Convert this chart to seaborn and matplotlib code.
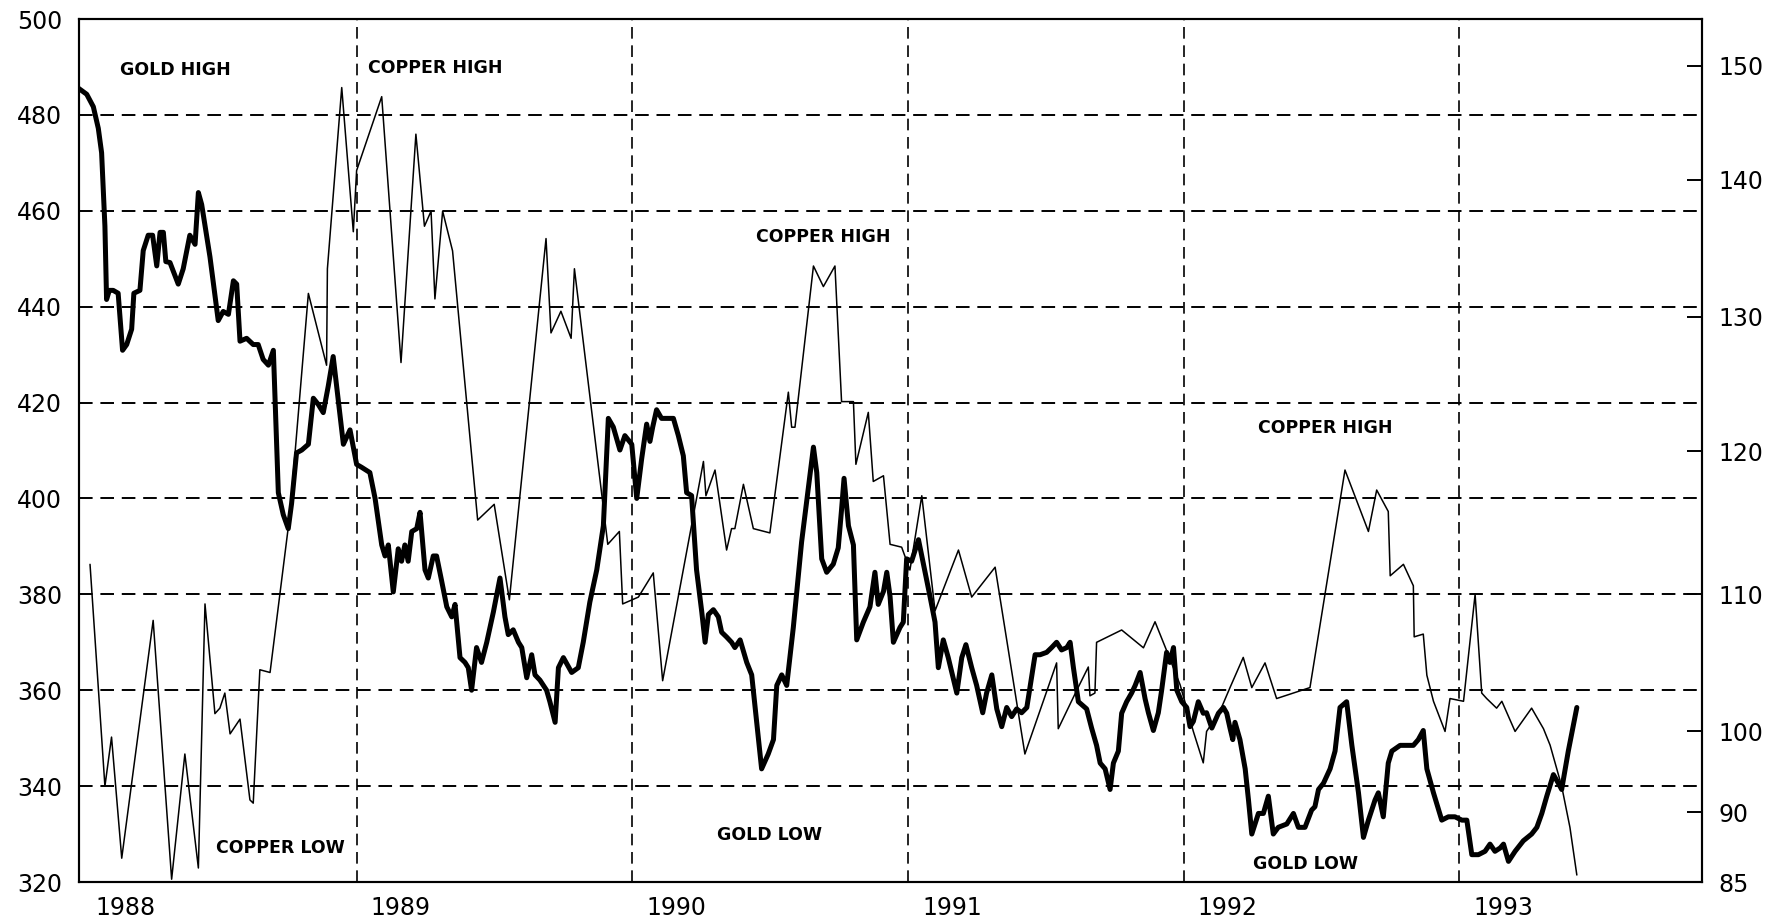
import numpy as np
import matplotlib
matplotlib.use('Agg')
import matplotlib.pyplot as plt
import seaborn as sns

# gold price (left axis, $/oz), weekly-ish readings
gold_year = [
    1987.990, 1988.021, 1988.045, 1988.063, 1988.075, 1988.087, 1988.093, 1988.103, 1988.117, 1988.135,
    1988.151, 1988.166, 1988.184, 1988.192, 1988.214, 1988.226, 1988.244, 1988.260, 1988.275, 1988.287,
    1988.299, 1988.308, 1988.323, 1988.353, 1988.371, 1988.395, 1988.414, 1988.426, 1988.438, 1988.468,
    1988.498, 1988.516, 1988.535, 1988.553, 1988.565, 1988.577, 1988.601, 1988.625, 1988.643, 1988.661,
    1988.680, 1988.698, 1988.716, 1988.734, 1988.752, 1988.764, 1988.782, 1988.801, 1988.825, 1988.843,
    1988.861, 1988.879, 1988.897, 1988.915, 1988.934, 1988.952, 1988.976, 1989.000, 1989.018, 1989.048,
    1989.067, 1989.091, 1989.103, 1989.115,
    1989.133, 1989.151, 1989.163, 1989.175, 1989.187, 1989.200, 1989.218, 1989.230, 1989.248, 1989.260,
    1989.278, 1989.290, 1989.308, 1989.327, 1989.345, 1989.357, 1989.375, 1989.393, 1989.405, 1989.417,
    1989.435, 1989.453, 1989.472, 1989.496, 1989.520, 1989.538, 1989.550, 1989.568, 1989.587, 1989.599,
    1989.617, 1989.635, 1989.647, 1989.665, 1989.689, 1989.701, 1989.720, 1989.732, 1989.750, 1989.780,
    1989.804, 1989.822, 1989.846, 1989.871, 1989.895, 1989.913, 1989.931, 1989.955, 1989.973, 1989.998,
    1990.016,
    1990.034, 1990.052, 1990.064, 1990.074, 1990.088, 1990.106, 1990.149, 1990.167, 1990.185, 1990.197,
    1990.215, 1990.233, 1990.252, 1990.264, 1990.276, 1990.294, 1990.312, 1990.324, 1990.342, 1990.360,
    1990.372, 1990.391, 1990.415, 1990.433, 1990.451, 1990.469, 1990.493, 1990.512, 1990.524, 1990.542,
    1990.560, 1990.584, 1990.614, 1990.639, 1990.657, 1990.669, 1990.687, 1990.705, 1990.729, 1990.747,
    1990.759, 1990.768, 1990.784, 1990.802, 1990.814, 1990.838, 1990.862, 1990.880, 1990.892, 1990.911,
    1990.923, 1990.935, 1990.947, 1990.971, 1990.983, 1990.995, 1991.013, 1991.038, 1991.056, 1991.080,
    1991.098, 1991.110, 1991.128, 1991.146,
    1991.177, 1991.195, 1991.210, 1991.231, 1991.249, 1991.271, 1991.285, 1991.304, 1991.322, 1991.340,
    1991.358, 1991.376, 1991.394, 1991.412, 1991.431, 1991.445, 1991.461, 1991.479, 1991.503, 1991.521,
    1991.539, 1991.557, 1991.576, 1991.588, 1991.600, 1991.618, 1991.648, 1991.666, 1991.684, 1991.697,
    1991.715, 1991.733, 1991.745, 1991.763, 1991.775, 1991.793, 1991.811, 1991.824, 1991.842, 1991.860,
    1991.872, 1991.890, 1991.908, 1991.920, 1991.938, 1991.950, 1991.963, 1991.975, 1991.993, 1992.011,
    1992.023, 1992.035, 1992.053, 1992.071, 1992.083, 1992.102, 1992.126, 1992.144, 1992.156, 1992.168,
    1992.178, 1992.186, 1992.204, 1992.223, 1992.235, 1992.247, 1992.271, 1992.289, 1992.307, 1992.325,
    1992.343, 1992.374, 1992.398, 1992.416, 1992.440, 1992.464, 1992.476, 1992.489, 1992.507, 1992.531,
    1992.549, 1992.567, 1992.591, 1992.610, 1992.634, 1992.652, 1992.670, 1992.694, 1992.706, 1992.724,
    1992.742, 1992.755, 1992.785, 1992.809, 1992.833, 1992.851, 1992.869, 1992.882, 1992.906, 1992.936,
    1992.960, 1992.984, 1993.009, 1993.027, 1993.045, 1993.069, 1993.093, 1993.111, 1993.129, 1993.148,
    1993.160, 1993.178, 1993.202, 1993.232, 1993.262, 1993.281, 1993.299, 1993.317, 1993.341, 1993.359,
    1993.371, 1993.395, 1993.426,
]
gold_price = [
    485.6, 484.3, 481.7, 477.2, 472.1, 456.8, 441.5, 443.4, 443.4, 442.8,
    430.9, 432.1, 435.3, 442.8, 443.4, 451.7, 454.9, 454.9, 448.5, 455.5,
    455.5, 449.4, 449.2, 444.7, 447.9, 454.9, 453.0, 463.8, 461.3, 450.4,
    437.1, 439.0, 438.4, 445.4, 444.7, 432.8, 433.4, 432.1, 432.1, 429.0,
    427.8, 430.9, 401.2, 396.6, 393.7, 398.9, 409.5, 410.1, 411.3, 420.9,
    419.6, 417.9, 423.4, 429.6, 420.3, 411.3, 414.3, 407.1, 406.5, 405.4,
    400.0, 390.3, 388.0, 390.3,
    380.5, 389.5, 386.9, 390.3, 386.9, 393.1, 393.7, 397.1, 385.1, 383.4,
    388.0, 388.0, 382.9, 377.4, 375.3, 377.9, 366.8, 365.8, 364.7, 360.0,
    368.9, 365.8, 370.0, 376.3, 383.4, 375.3, 371.6, 372.6, 370.0, 368.9,
    362.6, 367.4, 363.2, 362.1, 360.0, 357.6, 353.3, 364.7, 366.8, 363.7,
    364.7, 370.0, 378.4, 385.1, 394.3, 416.7, 414.9, 410.1, 413.1, 411.3,
    400.0,
    408.3, 415.5, 411.9, 414.9, 418.5, 416.7, 416.7, 413.1, 408.9, 401.2,
    400.6, 385.1, 376.3, 370.0, 375.8, 376.8, 375.3, 372.1, 371.1, 370.0,
    368.9, 370.5, 365.8, 363.2, 353.3, 343.6, 346.7, 349.7, 361.0, 363.2,
    361.0, 373.1, 390.9, 402.4, 410.7, 405.4, 387.4, 384.6, 386.3, 389.7,
    397.7, 404.2, 394.3, 390.3, 370.5, 374.2, 377.4, 384.6, 377.9, 380.6,
    384.6, 379.5, 370.0, 373.1, 374.2, 387.4, 386.9, 391.4, 386.3, 379.5,
    374.2, 364.7, 370.5, 366.8,
    359.4, 366.8, 369.5, 364.7, 361.0, 355.3, 359.4, 363.2, 356.1, 352.4,
    356.4, 354.5, 356.1, 355.3, 356.4, 361.6, 367.4, 367.4, 367.9, 368.9,
    370.0, 368.4, 368.9, 370.0, 364.7, 357.6, 356.1, 352.1, 348.5, 344.8,
    343.6, 339.3, 344.8, 347.3, 355.2, 357.6, 359.4, 361.0, 363.7, 358.2,
    355.3, 351.6, 355.3, 360.0, 367.9, 365.8, 368.9, 360.0, 357.6, 356.4,
    352.4, 353.5, 357.6, 355.2, 355.3, 352.1, 355.2, 356.4, 355.2, 352.1,
    349.7, 353.3, 349.7, 343.6, 337.1, 330.0, 334.3, 334.3, 337.9, 330.0,
    331.4, 332.1, 334.3, 331.4, 331.4, 335.0, 335.7, 339.3, 340.6, 343.6,
    347.3, 356.4, 357.6, 348.5, 338.6, 329.3, 332.9, 337.1, 338.6, 333.6,
    344.8, 347.3, 348.5, 348.5, 348.5, 349.7, 351.6, 343.6, 338.6, 332.9,
    333.6, 333.6, 332.9, 332.9, 325.7, 325.7, 326.4, 327.9, 326.4, 327.1,
    327.9, 324.3, 326.4, 328.6, 330.0, 331.4, 334.3, 337.9, 342.4, 340.6,
    339.3, 347.3, 356.4,
]

# copper price (right axis, cents/lb)
copper_year = [
    1988.033, 1988.087, 1988.111, 1988.148, 1988.262, 1988.329, 1988.377, 1988.426, 1988.450, 1988.486,
    1988.504, 1988.522, 1988.541, 1988.577, 1988.613, 1988.625, 1988.649, 1988.686, 1988.758, 1988.825,
    1988.891, 1988.894, 1988.946, 1988.988, 1989.000, 1989.091, 1989.161, 1989.215, 1989.246, 1989.270,
    1989.284, 1989.312, 1989.348, 1989.439, 1989.499, 1989.554, 1989.687, 1989.705, 1989.741, 1989.778,
    1989.790, 1989.886, 1989.911, 1989.953, 1989.965, 1990.022, 1990.076, 1990.110, 1990.258, 1990.267,
    1990.300, 1990.342, 1990.360, 1990.372, 1990.403, 1990.439, 1990.499, 1990.566, 1990.578, 1990.590,
    1990.657, 1990.693, 1990.735, 1990.759, 1990.802, 1990.811, 1990.856, 1990.874, 1990.911, 1990.935,
    1990.977, 1991.007, 1991.050, 1991.098, 1991.183, 1991.231, 1991.316, 1991.424, 1991.539, 1991.545,
    1991.612, 1991.654, 1991.660, 1991.678, 1991.684, 1991.775, 1991.854, 1991.896, 1991.938, 1991.987,
    1992.035, 1992.071, 1992.083, 1992.132, 1992.168, 1992.216, 1992.247, 1992.295, 1992.337, 1992.458,
    1992.585, 1992.670, 1992.700, 1992.742, 1992.749, 1992.797, 1992.833, 1992.836, 1992.869, 1992.882,
    1992.906, 1992.948, 1992.966, 1993.015, 1993.057, 1993.081, 1993.099, 1993.135, 1993.154, 1993.202,
    1993.262, 1993.305, 1993.329, 1993.371, 1993.401, 1993.426,
]
copper_price = [
    112.1, 93.2, 99.3, 86.7, 108.1, 85.2, 97.2, 86.0, 109.3, 101.3,
    101.7, 102.8, 99.7, 100.9, 91.5, 91.1, 104.5, 104.3, 115.6, 131.7,
    126.4, 133.5, 148.1, 136.2, 140.8, 147.3, 126.6, 144.0, 136.6, 137.7,
    131.3, 137.7, 134.8, 115.2, 116.3, 109.6, 135.7, 128.8, 130.4, 128.4,
    133.5, 117.5, 113.5, 114.4, 109.3, 109.8, 111.5, 103.7, 119.3, 116.9,
    118.7, 113.1, 114.6, 114.6, 117.7, 114.6, 114.3, 124.4, 121.8, 121.8,
    133.7, 132.2, 133.7, 123.7, 123.7, 119.1, 122.9, 117.9, 118.3, 113.5,
    113.3, 111.7, 116.9, 108.8, 113.1, 109.8, 111.9, 97.2, 105.0, 100.2,
    103.0, 104.7, 102.6, 102.8, 106.5, 107.4, 106.1, 108.0, 105.9, 103.4,
    100.0, 96.1, 100.0, 101.5, 103.2, 105.4, 103.2, 105.0, 102.4, 103.2,
    118.7, 114.4, 117.3, 115.8, 111.3, 112.1, 110.6, 106.9, 107.1, 104.1,
    102.2, 100.0, 102.4, 102.2, 110.0, 102.8, 102.4, 101.7, 102.2, 100.0,
    101.7, 100.2, 98.3, 93.2, 88.9, 85.5,
]

years = [1988, 1989, 1990, 1991, 1992, 1993]
gold_ticks = list(range(320, 501, 20))
copper_ticks = [85, 90, 100, 110, 120, 130, 140, 150]
# the copper scale on the original is hand drawn and uneven:
# where each copper value sits against the gold scale
copper_scale = [85, 90, 100, 110, 120, 130, 140, 150, 154.1]
copper_scale_at_gold = [320, 334.6, 351.4, 380, 409.8, 437.9, 466.5, 490.2, 500]

notes = [
    ('GOLD HIGH', 1988.341, 489.4),
    ('COPPER HIGH', 1989.284, 489.8),
    ('COPPER HIGH', 1990.691, 454.5),
    ('COPPER HIGH', 1992.512, 414.7),
    ('COPPER LOW', 1988.725, 327.1),
    ('GOLD LOW', 1990.499, 329.8),
    ('GOLD LOW', 1992.440, 323.7),
]


def cu_forward(v):
    return np.interp(v, copper_scale, copper_scale_at_gold)


def cu_inverse(v):
    return np.interp(v, copper_scale_at_gold, copper_scale)


sns.set_style('white')
plt.rcParams['font.family'] = ['DejaVu Sans']

X_MIN, X_MAX = 1987.993, 1993.880

fig = plt.figure(figsize=(17.68, 9.21), dpi=100)
ax = fig.add_axes([79 / 1768, 1 - 882 / 921, (1702 - 79) / 1768, (882 - 19) / 921])

sns.lineplot(x=gold_year, y=gold_price, ax=ax, color='black', linewidth=3.6,
             estimator=None, sort=False, zorder=4)

ax.set_xlim(X_MIN, X_MAX)
ax.set_ylim(320, 500)

for g in gold_ticks[1:-1]:
    ax.axhline(g, color='black', linewidth=1.4, linestyle=(0, (7, 4)), zorder=1)
for yr in years[1:]:
    ax.axvline(yr, color='black', linewidth=1.2, linestyle=(0, (7, 4)), zorder=1)

ax.set_yticks(gold_ticks)
ax.set_yticklabels([str(g) for g in gold_ticks])
ax.set_xticks([yr + 0.16 for yr in years])
ax.set_xticklabels([str(yr) for yr in years])
ax.tick_params(axis='both', length=0, labelsize=17, colors='black')
ax.tick_params(axis='y', pad=12)
ax.tick_params(axis='x', pad=10)
ax.set_xlabel('')
ax.set_ylabel('')

for label, x, y in notes:
    ax.text(x, y, label, ha='center', va='center', fontsize=12.5,
            fontweight='bold', color='black', zorder=5)

ax2 = ax.twinx()
ax2.set_yscale('function', functions=(cu_forward, cu_inverse))
sns.lineplot(x=copper_year, y=copper_price, ax=ax2, color='black', linewidth=1.1,
             estimator=None, sort=False)
ax2.set_ylim(85, 154.1)
ax2.set_xlim(X_MIN, X_MAX)
ax2.set_yticks(copper_ticks)
ax2.set_yticklabels([str(c) for c in copper_ticks])
ax2.yaxis.set_minor_locator(matplotlib.ticker.NullLocator())
ax2.tick_params(axis='y', direction='in', length=11, width=1.4, labelsize=17,
                pad=12, colors='black')
ax2.set_ylabel('')

for a in (ax, ax2):
    for s in a.spines.values():
        s.set_color('black')
        s.set_linewidth(1.5)

fig.savefig('out.png', dpi=100, facecolor='white')
